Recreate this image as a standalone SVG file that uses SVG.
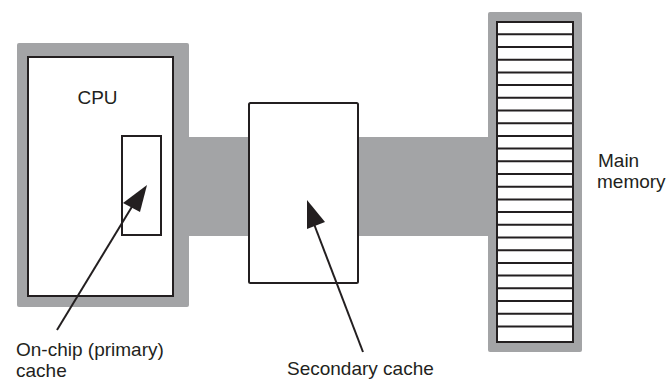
<svg xmlns="http://www.w3.org/2000/svg" width="668" height="381" viewBox="0 0 668 381">
<style>
.gray{fill:#a3a4a6}
.box{fill:#fff;stroke:#231f20;stroke-width:2}
.ln{stroke:#231f20;stroke-width:2;fill:none}
.t{font-family:"Liberation Sans",Arial,sans-serif;font-size:19px;fill:#231f20}
</style>
<rect width="668" height="381" fill="#fff"/>
<g id="bus">
<rect class="gray" x="185" y="137" width="306" height="99"/>
</g>
<g id="cpu">
<rect class="gray" x="17" y="43" width="172" height="264" rx="2"/>
<rect class="box" x="28" y="57" width="145" height="239"/>
<text class="t" x="97.5" y="104" text-anchor="middle">CPU</text>
</g>
<g id="onchip-cache">
<rect class="box" x="122" y="136" width="39" height="99"/>
</g>
<g id="secondary-cache">
<rect class="box" x="249" y="103" width="109" height="180" rx="1.5"/>
</g>
<g id="main-memory">
<rect class="gray" x="488" y="12" width="94" height="340" rx="2"/>
<rect class="box" x="497" y="22" width="76" height="320"/>
<path class="ln" d="M497 34.3H573M497 47H573M497 59.7H573M497 72.4H573M497 85.1H573M497 97.8H573M497 110.5H573M497 123.2H573M497 135.9H573M497 148.6H573M497 161.3H573M497 174H573M497 186.7H573M497 199.4H573M497 212.1H573M497 224.8H573M497 237.5H573M497 250.2H573M497 262.9H573M497 275.6H573M497 288.3H573M497 301H573M497 313.7H573M497 326.4H573"/>
<text class="t" x="598" y="167">Main</text>
<text class="t" x="597" y="188">memory</text>
</g>
<g id="connectors">
<line class="ln" x1="57" y1="330" x2="133" y2="205"/>
<polygon fill="#231f20" points="147,185 123,203 140,212"/>
<line class="ln" x1="363" y1="352" x2="314" y2="224"/>
<polygon fill="#231f20" points="307,200 307,229 325,222"/>
</g>
<g id="labels">
<text class="t" x="16" y="356">On-chip (primary)</text>
<text class="t" x="16" y="377">cache</text>
<text class="t" x="287" y="375">Secondary cache</text>
</g>
</svg>
